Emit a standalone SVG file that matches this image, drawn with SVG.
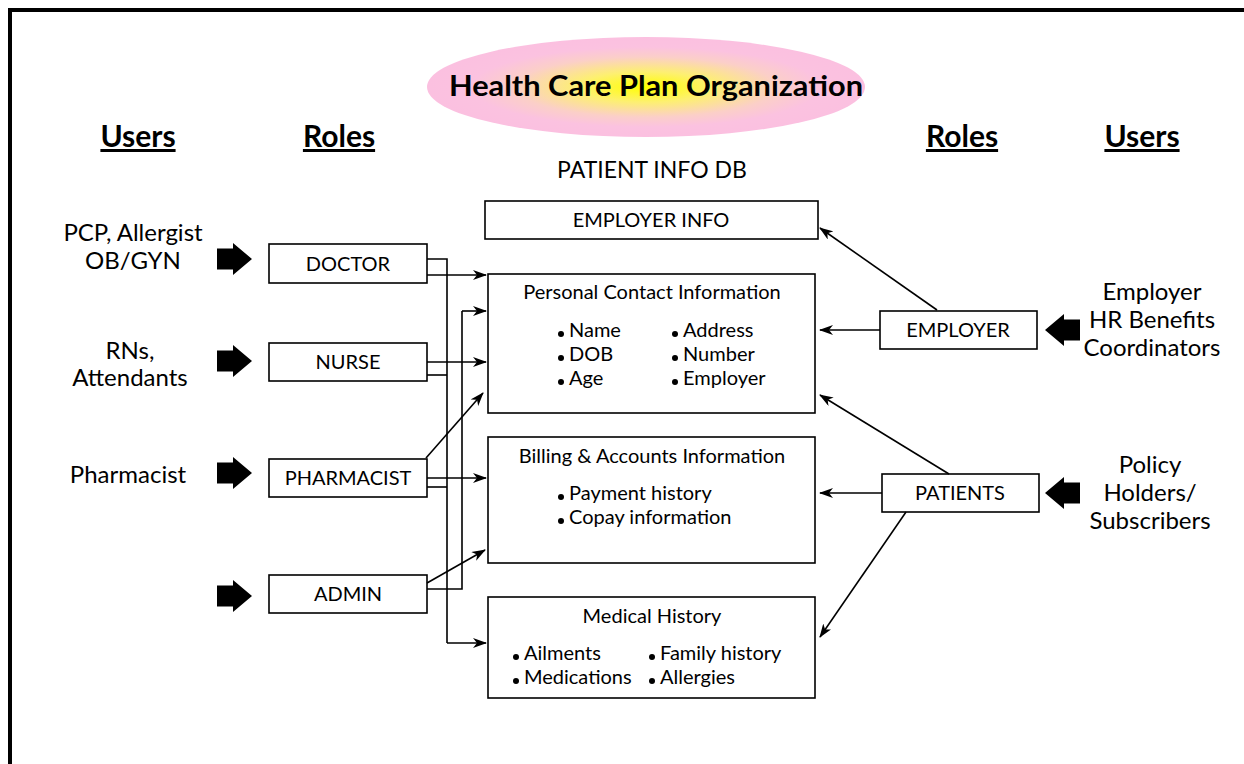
<svg xmlns="http://www.w3.org/2000/svg" width="1244" height="764" viewBox="0 0 1244 764">
<style>
text{font-family:"Lato","Noto Sans","DejaVu Sans",sans-serif;fill:#000}
.box{fill:#fff;stroke:#000;stroke-width:1.6}
.role{font-size:20px;text-anchor:middle}
.db{font-size:20px}
.hd{font-size:30px;font-weight:bold;text-anchor:middle;text-decoration:underline}
.usr{font-size:24px;text-anchor:middle}
.ln{fill:none;stroke:#000;stroke-width:1.6}
.ar{fill:none;stroke:#000;stroke-width:1.6;marker-end:url(#ah)}
.dot{fill:#000}
</style>
<defs>
<radialGradient id="g" cx="0.5" cy="0.5" r="0.5">
<stop offset="0" stop-color="#ffff00"/>
<stop offset="0.3" stop-color="#fdf070"/>
<stop offset="0.6" stop-color="#fbcfc8"/>
<stop offset="0.8" stop-color="#fbc2e0"/>
<stop offset="1" stop-color="#fbc0e0"/>
</radialGradient>
<marker id="ah" viewBox="0 0 14 10" refX="13" refY="5" markerWidth="14" markerHeight="10" markerUnits="userSpaceOnUse" orient="auto">
<path d="M0,0 L14,5 L0,10 L4,5 z" fill="#000"/>
</marker>
<path id="bl" d="M0,-10.5 L16,-10.5 L16,-16 L35,0 L16,16 L16,10.5 L0,10.5 z"/>
</defs>
<rect x="10" y="10" width="1260" height="800" fill="none" stroke="#000" stroke-width="4"/>

<g id="title">
<ellipse cx="646" cy="87" rx="219" ry="50" fill="url(#g)"/>
<text x="656" y="96" font-size="29" font-weight="bold" text-anchor="middle" textLength="414" lengthAdjust="spacingAndGlyphs">Health Care Plan Organization</text>
</g>

<g id="headers">
<text class="hd" x="138" y="147">Users</text>
<text class="hd" x="339" y="147">Roles</text>
<text class="hd" x="962" y="147">Roles</text>
<text class="hd" x="1142" y="147">Users</text>
<text x="652" y="178" font-size="23" text-anchor="middle">PATIENT INFO DB</text>
</g>

<g id="users-left">
<text class="usr" x="133" y="241">PCP, Allergist</text>
<text class="usr" x="133" y="269">OB/GYN</text>
<text class="usr" x="130" y="359">RNs,</text>
<text class="usr" x="130" y="386">Attendants</text>
<text class="usr" x="128" y="483">Pharmacist</text>
<use href="#bl" x="217" y="259"/>
<use href="#bl" x="217" y="361"/>
<use href="#bl" x="217" y="473"/>
<use href="#bl" x="217" y="596"/>
</g>

<g id="users-right">
<text class="usr" x="1152" y="300">Employer</text>
<text class="usr" x="1152" y="328">HR Benefits</text>
<text class="usr" x="1152" y="356">Coordinators</text>
<text class="usr" x="1150" y="473">Policy</text>
<text class="usr" x="1150" y="501">Holders/</text>
<text class="usr" x="1150" y="529">Subscribers</text>
<use href="#bl" transform="translate(1080,330) scale(-1,1)"/>
<use href="#bl" transform="translate(1080,493) scale(-1,1)"/>
</g>

<g id="doctor"><rect class="box" x="269" y="244" width="158" height="39"/><text class="role" x="348" y="271">DOCTOR</text></g>
<g id="nurse"><rect class="box" x="269" y="343" width="158" height="38"/><text class="role" x="348" y="369">NURSE</text></g>
<g id="pharmacist"><rect class="box" x="269" y="459" width="158" height="38"/><text class="role" x="348" y="485">PHARMACIST</text></g>
<g id="admin"><rect class="box" x="269" y="575" width="158" height="38"/><text class="role" x="348" y="601">ADMIN</text></g>
<g id="employer"><rect class="box" x="880" y="311" width="157" height="38"/><text class="role" x="958" y="337">EMPLOYER</text></g>
<g id="patients"><rect class="box" x="882" y="474" width="157" height="38"/><text class="role" x="960" y="500">PATIENTS</text></g>

<g id="employer-info"><rect class="box" x="485" y="201" width="333" height="38"/><text class="db" x="651" y="227" text-anchor="middle">EMPLOYER INFO</text></g>

<g id="personal">
<rect class="box" x="488" y="274" width="327" height="139"/>
<text class="db" x="652" y="299" text-anchor="middle">Personal Contact Information</text>
<circle class="dot" cx="561" cy="334" r="3"/><text class="db" x="569" y="337">Name</text>
<circle class="dot" cx="561" cy="358" r="3"/><text class="db" x="569" y="361">DOB</text>
<circle class="dot" cx="561" cy="382" r="3"/><text class="db" x="569" y="385">Age</text>
<circle class="dot" cx="675" cy="334" r="3"/><text class="db" x="683" y="337">Address</text>
<circle class="dot" cx="675" cy="358" r="3"/><text class="db" x="683" y="361">Number</text>
<circle class="dot" cx="675" cy="382" r="3"/><text class="db" x="683" y="385">Employer</text>
</g>

<g id="billing">
<rect class="box" x="488" y="437" width="327" height="126"/>
<text class="db" x="652" y="463" text-anchor="middle">Billing &amp; Accounts Information</text>
<circle class="dot" cx="561" cy="497" r="3"/><text class="db" x="569" y="500">Payment history</text>
<circle class="dot" cx="561" cy="521" r="3"/><text class="db" x="569" y="524">Copay information</text>
</g>

<g id="medical">
<rect class="box" x="488" y="597" width="327" height="101"/>
<text class="db" x="652" y="623" text-anchor="middle">Medical History</text>
<circle class="dot" cx="516" cy="657" r="3"/><text class="db" x="524" y="660">Ailments</text>
<circle class="dot" cx="516" cy="681" r="3"/><text class="db" x="524" y="684">Medications</text>
<circle class="dot" cx="652" cy="657" r="3"/><text class="db" x="660" y="660">Family history</text>
<circle class="dot" cx="652" cy="681" r="3"/><text class="db" x="660" y="684">Allergies</text>
</g>

<g id="connectors">
<polyline class="ln" points="427,259 447,259 447,643"/>
<line class="ar" x1="447" y1="643" x2="486" y2="643"/>
<line class="ar" x1="427" y1="275" x2="486" y2="275"/>
<line class="ln" x1="427" y1="375" x2="447" y2="375"/>
<line class="ln" x1="427" y1="487" x2="447" y2="487"/>
<polyline class="ln" points="427,589 462,589 462,311"/>
<line class="ar" x1="462" y1="311" x2="486" y2="311"/>
<line class="ar" x1="427" y1="362" x2="486" y2="362"/>
<line class="ar" x1="426" y1="458" x2="483" y2="393"/>
<line class="ar" x1="427" y1="478" x2="486" y2="478"/>
<line class="ar" x1="427" y1="583" x2="485" y2="550"/>
<line class="ar" x1="937" y1="310" x2="820" y2="228"/>
<line class="ar" x1="880" y1="330" x2="820" y2="330"/>
<line class="ar" x1="949" y1="474" x2="820" y2="395"/>
<line class="ar" x1="882" y1="493" x2="820" y2="493"/>
<line class="ar" x1="906" y1="512" x2="820" y2="637"/>
</g>
</svg>
